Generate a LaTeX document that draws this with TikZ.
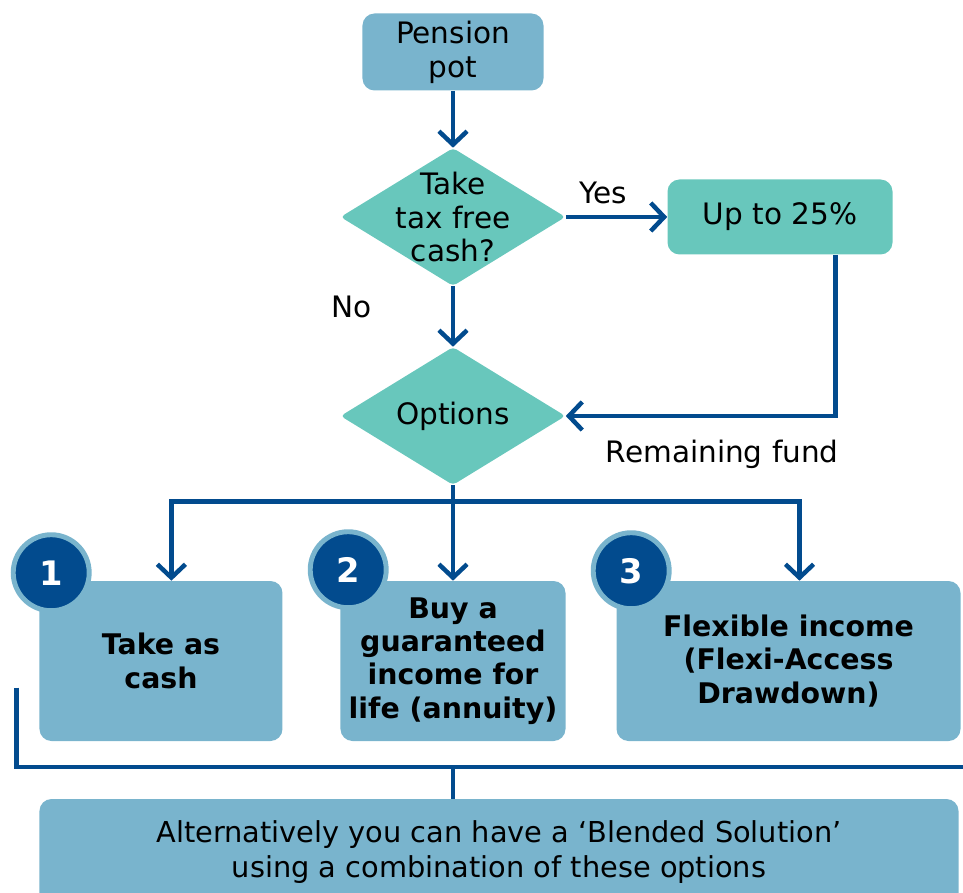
\documentclass[tikz,border=0pt]{standalone}
\usepackage{fontspec}
\setmainfont{DejaVu Sans}
\usetikzlibrary{shapes.geometric, arrows.meta}
\definecolor{potblue}{HTML}{79B4CD}
\definecolor{tealgreen}{HTML}{68C7BC}
\definecolor{navy}{HTML}{024B8E}

\begin{document}
\begin{tikzpicture}[
        node distance=4cm,
        startbox/.style={rectangle, fill=potblue, minimum width=4.525cm, minimum height=1.925cm, rounded corners=0.3cm, align=center, inner sep=0pt, font=\fontsize{21}{24}\selectfont},
        decision/.style={diamond, fill=tealgreen, minimum width=5.625cm, minimum height=3.45cm, inner sep=0pt, rounded corners=0.1cm},
        amount/.style={rectangle, fill=tealgreen, minimum width=5.625cm, minimum height=1.875cm, rounded corners=0.3cm, inner sep=0pt, font=\fontsize{21}{24}\selectfont},
        choice/.style={rectangle, fill=potblue, minimum height=4cm, rounded corners=0.3cm, align=center, inner sep=0pt, font=\fontsize{20.2}{23.7}\selectfont\bfseries},
        blend/.style={rectangle, fill=potblue, minimum width=22.975cm, minimum height=2.65cm, rounded corners=0.3cm, align=center, inner sep=0pt, font=\fontsize{20.5}{24.5}\selectfont},
        numdot/.style={circle, fill=navy, draw=potblue, line width=3.5pt, minimum size=1.9cm, inner sep=0pt, text=white, font=\fontsize{24}{24}\selectfont\bfseries},
        arrow/.style={-{Straight Barb[length=9.5pt, width=20pt]}, navy, line width=3.2pt},
        link/.style={navy, line width=3.5pt},
        note/.style={text=black, font=\fontsize{21}{24}\selectfont, align=center, inner sep=2pt}
    ]
        \useasboundingbox (-11.325,1.3) rectangle (12.75,-21.025);
        \clip (-11.325,1.3) rectangle (12.75,-21.025);

        % Start and questions
        \node[startbox] (pot) at (0,0) {Pension\\pot};
        \node[decision, below of=pot, yshift=-0.125cm, label={[note]center:Take\\tax free\\cash?}] (cash) {};
        \node[amount, right of=cash, xshift=4.175cm] (upto) {Up to 25\%};
        \node[decision, below of=cash, yshift=-0.975cm, label={[note]center:Options}] (options) {};

        % Choices
        \node[choice, minimum width=5.625cm, below of=options, yshift=-2.125cm] (annuity) {Buy a\\guaranteed\\income for\\life (annuity)};
        \node[choice, minimum width=6.075cm, left of=annuity, xshift=-3.3cm] (takecash) {Take as\\cash};
        \node[choice, minimum width=8.6cm, right of=annuity, xshift=4.3875cm] (flexi) {Flexible income\\(Flexi-Access\\Drawdown)};

        % Numbers
        \node[numdot] (one) at ([xshift=0.3cm, yshift=0.2cm]takecash.north west) {1};
        \node[numdot] (two) at ([xshift=0.2cm, yshift=0.275cm]annuity.north west) {2};
        \node[numdot] (three) at ([xshift=0.375cm, yshift=0.25cm]flexi.north west) {3};

        % Blended solution
        \node[blend, below of=annuity, xshift=1.15cm, yshift=-0.775cm] (blended) {Alternatively you can have a ‘Blended Solution’\\using a combination of these options};

        % Arrows
        \draw[arrow] (pot) -- (cash);
        \draw[arrow] (cash.east) -- node[note, above, pos=0.37, yshift=0.2cm] {Yes} (upto.west);
        \draw[arrow] (cash.south) -- node[note, left, pos=0.34, xshift=-1.9cm] {No} (options.north);
        \draw[arrow] ([xshift=1.39cm]upto.south) |- node[note, below, pos=0.71, yshift=-0.475cm] {Remaining fund} (options.east);
        \coordinate (split) at ([yshift=-0.4cm]options.south);
        \draw[arrow] (options.south) -- (annuity.north);
        \draw[arrow] (split) -| ([xshift=0.26cm]takecash.north);
        \draw[arrow] (split) -| ([xshift=0.275cm]flexi.north);

        % Bracket
        \coordinate (brl) at ([xshift=-0.575cm, yshift=-0.6625cm]takecash.west);
        \coordinate (brr) at (12.9,-17.875);
        \draw[link] (brl) |- (brr);
        \draw[link] (annuity.south |- brr) -- (annuity.south |- blended.north);
    \end{tikzpicture}
\end{document}
